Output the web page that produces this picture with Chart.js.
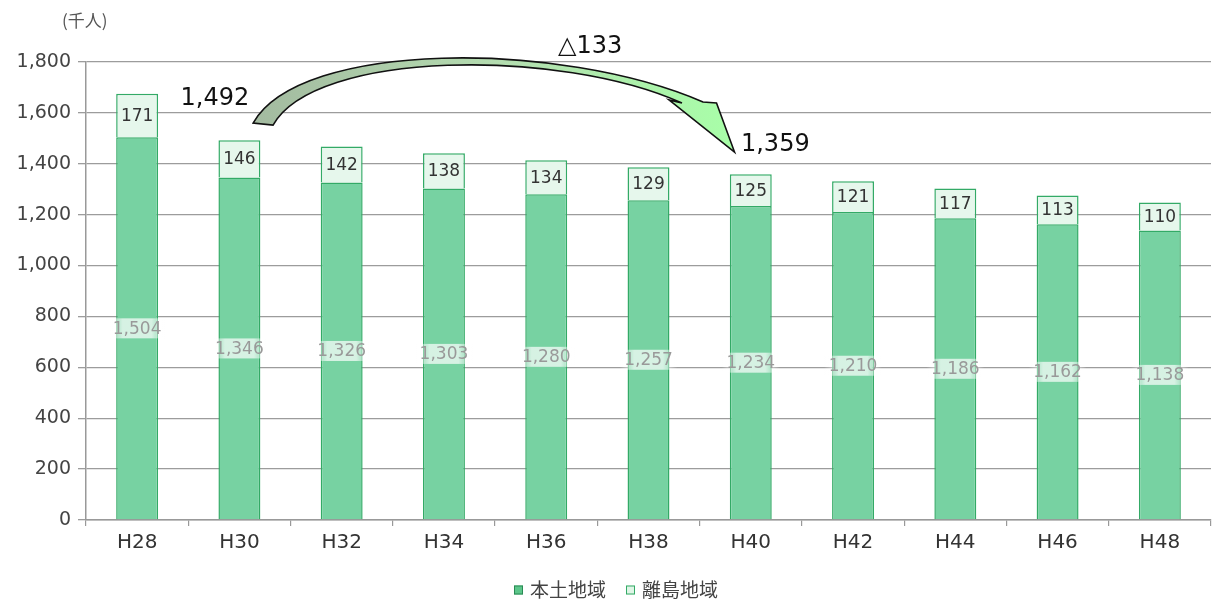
<!DOCTYPE html>
<html><head><meta charset="utf-8">
<script src="https://cdn.jsdelivr.net/npm/chart.js@4"></script>
<style>html,body{margin:0;padding:0;background:#fff}#wrap{width:1216px;height:599px;position:relative}</style>
</head><body><div id="wrap"><canvas id="c" width="1216" height="599"></canvas></div>
<script>
const categories = ['H28','H30','H32','H34','H36','H38','H40','H42','H44','H46','H48'];
const mainland = [1504,1346,1326,1303,1280,1257,1234,1210,1186,1162,1138];
const islands = [171,146,142,138,134,129,125,121,117,113,110];
const seriesNames = ['本土地域','離島地域'];
const yMin = 0, yMax = 1800, yStep = 200;
const unitLabel = '(千人)';
const fromIdx = 1, toIdx = 6;

const NUMFONT = '"DejaVu Sans", sans-serif';
const JPFONT = '"Noto Sans CJK JP", "Noto Sans", sans-serif';
const fmt = v => Number(v).toLocaleString('en-US');
const totals = mainland.map((v,i)=>v+islands[i]);
const colMain = '#77d2a2', colMainBorder = '#33aa66';
const colIsl = '#e6f7ec', colIslBorder = '#33aa66';

const labelPlugin = {
  id:'labels',
  afterDatasetsDraw(chart){
    const ctx = chart.ctx;
    const m0 = chart.getDatasetMeta(0), m1 = chart.getDatasetMeta(1);
    ctx.save();
    ctx.textAlign='center'; ctx.textBaseline='middle';
    m0.data.forEach((bar,i)=>{
      const cy = (bar.y+bar.base)/2, cx = bar.x, w = bar.width+16;
      const g = ctx.createLinearGradient(cx-w/2,0,cx+w/2,0);
      g.addColorStop(0,'rgba(255,255,255,0)');
      g.addColorStop(0.25,'rgba(255,255,255,0.7)');
      g.addColorStop(0.75,'rgba(255,255,255,0.7)');
      g.addColorStop(1,'rgba(255,255,255,0)');
      ctx.fillStyle=g; ctx.fillRect(cx-w/2,cy-10,w,20);
      ctx.font='17px '+NUMFONT; ctx.fillStyle='#999';
      ctx.fillText(fmt(mainland[i]),cx,cy+1);
    });
    m1.data.forEach((bar,i)=>{
      const cy = (bar.y+bar.base)/2;
      ctx.font='17px '+NUMFONT; ctx.fillStyle='#333';
      ctx.fillText(fmt(islands[i]),bar.x,cy+1);
    });
    ctx.restore();
  },
  afterDraw(chart){
    const ctx = chart.ctx, xs = chart.scales.x, ys = chart.scales.y;
    const step = xs.getPixelForValue(1)-xs.getPixelForValue(0);
    const P = (i,v)=>[xs.getPixelForValue(0)+step*i, ys.getPixelForValue(v)];
    ctx.save();
    // unit label
    ctx.font='17px '+JPFONT; ctx.fillStyle='#555'; ctx.textAlign='left'; ctx.textBaseline='middle';
    ctx.fillText(unitLabel, 62, 21);
    // arrow
    const oS=P(1.134,1560), oC1=P(1.593,1886), oC2=P(4.135,1886), oE=P(5.533,1643);
    const iS=P(1.329,1552), iC1=P(1.74,1847), iC2=P(4.135,1855), iE=P(5.327,1639);
    const b1=P(5.665,1639), tip=P(5.841,1446), b2=P(5.2,1651);
    const g = ctx.createLinearGradient(oS[0],0,tip[0],0);
    g.addColorStop(0,'#a3baa0'); g.addColorStop(0.5,'#b4dcb0'); g.addColorStop(1,'#a8ffa8');
    ctx.beginPath();
    ctx.moveTo(...oS);
    ctx.bezierCurveTo(...oC1,...oC2,...oE);
    ctx.lineTo(...b1); ctx.lineTo(...tip); ctx.lineTo(...b2); ctx.lineTo(...iE);
    ctx.bezierCurveTo(...iC2,...iC1,...iS);
    ctx.closePath();
    ctx.fillStyle=g; ctx.fill();
    ctx.lineWidth=1.6; ctx.strokeStyle='#111'; ctx.lineJoin='miter'; ctx.stroke();
    // annotation texts
    ctx.font='24px '+NUMFONT; ctx.fillStyle='#111'; ctx.textAlign='center';
    const a=P(0.76,1656); ctx.fillText(fmt(totals[fromIdx]),a[0],a[1]);
    const b=P(6.24,1475); ctx.fillText(fmt(totals[toIdx]),b[0],b[1]);
    const c=P(4.43,1860); ctx.fillText('△'+fmt(totals[fromIdx]-totals[toIdx]),c[0],c[1]);
    // legend
    const items=[{t:seriesNames[0],f:'#5cc68a',s:'#2a8a55'},{t:seriesNames[1],f:'#dff5e6',s:'#33aa66'}];
    ctx.font='19px '+JPFONT; ctx.textAlign='left';
    const gap=20, box=9, tg=7;
    let total=0; items.forEach((it,k)=>{total+=box+tg+ctx.measureText(it.t).width+(k?gap:0);});
    let x=(chart.width)/2+8-total/2; const ly=590;
    items.forEach((it,k)=>{
      if(k) x+=gap;
      ctx.fillStyle=it.f; ctx.fillRect(x,ly-box/2,box,box);
      ctx.lineWidth=1; ctx.strokeStyle=it.s; ctx.strokeRect(x+0.5,ly-box/2+0.5,box-1,box-1);
      x+=box+tg;
      ctx.fillStyle='#444'; ctx.fillText(it.t,x,ly);
      x+=ctx.measureText(it.t).width;
    });
    ctx.restore();
  }
};

new Chart(document.getElementById('c'),{
  type:'bar',
  data:{labels:categories,datasets:[
    {label:seriesNames[0],data:mainland,backgroundColor:colMain,borderColor:colMainBorder,borderWidth:1.5,barPercentage:0.41,categoryPercentage:1},
    {label:seriesNames[1],data:islands,backgroundColor:colIsl,borderColor:colIslBorder,borderWidth:1.5,barPercentage:0.41,categoryPercentage:1}
  ]},
  options:{
    responsive:false, animation:false, devicePixelRatio:1,
    layout:{padding:{top:62,right:5,left:0,bottom:39}},
    plugins:{ legend:{display:false}, tooltip:{enabled:false} },
    scales:{
      x:{stacked:true,grid:{display:true,drawOnChartArea:false,offset:true,tickLength:6,color:'#999',lineWidth:1.2},
         border:{display:true,color:'#999',width:1.5},
         ticks:{font:{family:NUMFONT,size:20},color:'#333',padding:5},
         afterFit(s){s.height=40;}},
      y:{stacked:true,min:yMin,max:yMax,
         ticks:{stepSize:yStep,font:{family:NUMFONT,size:19},color:'#444',padding:7,callback:v=>fmt(v)},
         grid:{color:'#9c9c9c',lineWidth:1.3,tickLength:8},
         border:{display:true,color:'#999',width:1.5},
         afterFit(s){s.width=86;}}
    }
  },
  plugins:[labelPlugin]
});
</script></body></html>
